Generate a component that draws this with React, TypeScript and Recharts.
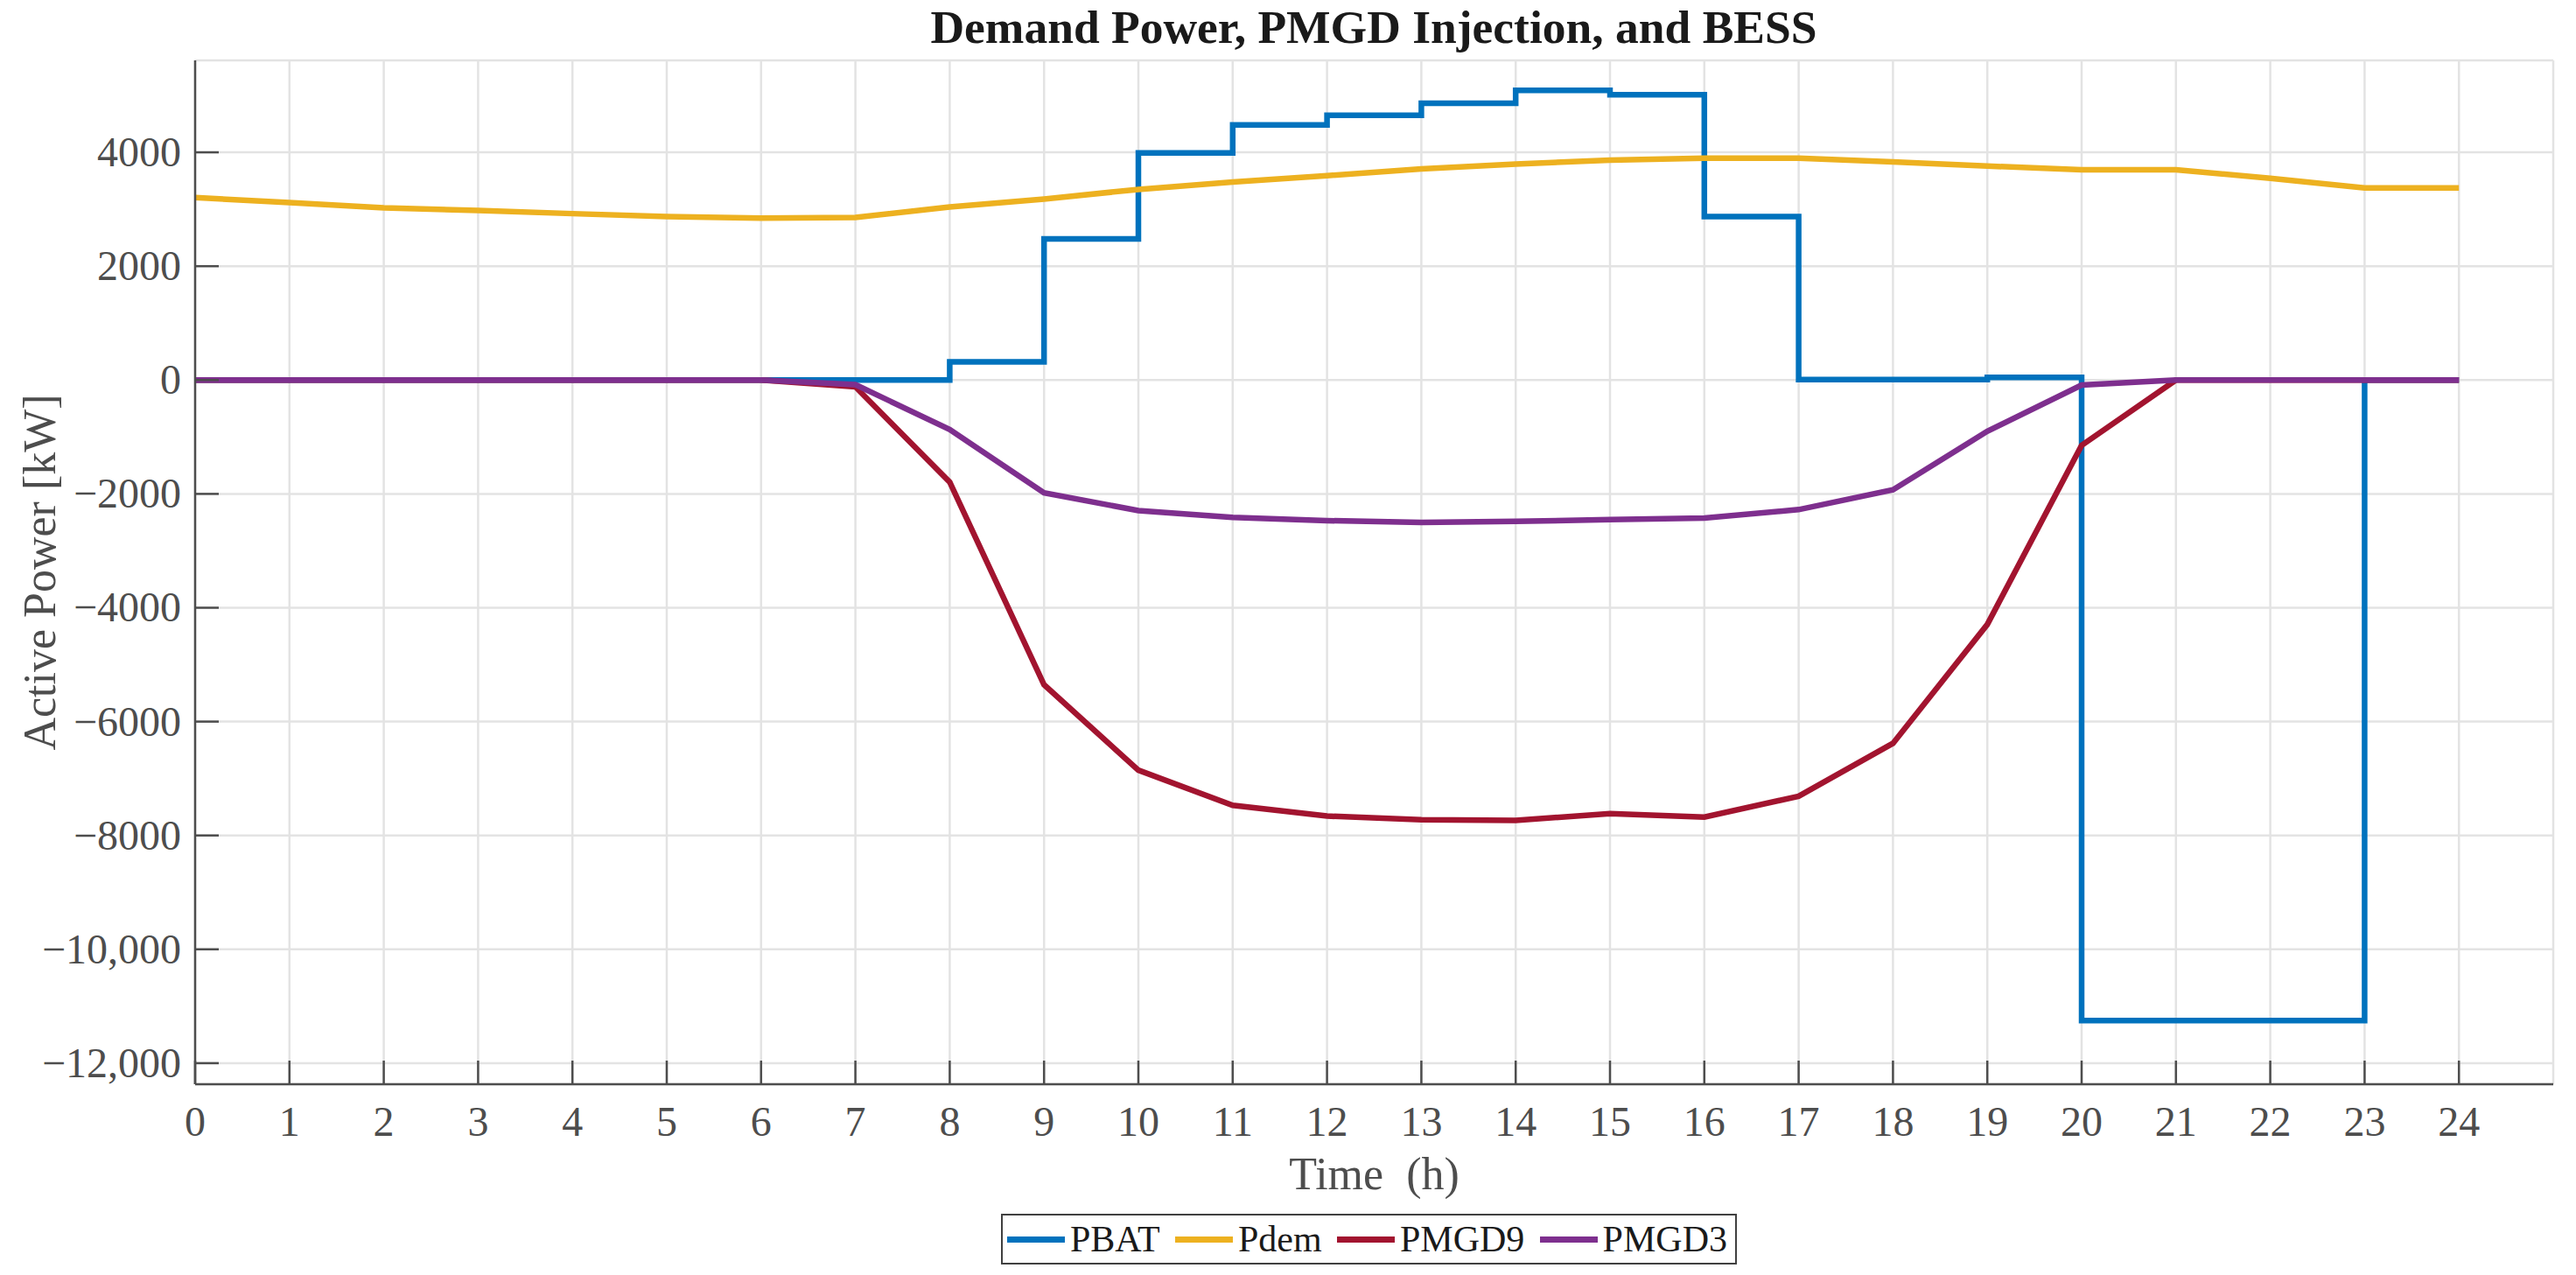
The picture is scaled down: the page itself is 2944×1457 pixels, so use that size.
import React from 'react';
import { LineChart, Line, XAxis, YAxis, CartesianGrid } from 'recharts';

const hours = [0, 1, 2, 3, 4, 5, 6, 7, 8, 9, 10, 11, 12, 13, 14, 15, 16, 17, 18, 19, 20, 21, 22, 23, 24];
const pbat = [0, 0, 0, 0, 0, 0, 0, 0, 320, 2480, 3990, 4480, 4650, 4860, 5090, 5010, 2870, 10, 10, 45, -11250, -11250, -11250, 0, 0];
const pdem = [3205, 3118, 3026, 2979, 2923, 2872, 2846, 2856, 3041, 3179, 3349, 3477, 3590, 3708, 3795, 3862, 3897, 3897, 3831, 3759, 3692, 3692, 3544, 3374, 3374];
const pmgd9 = [0, 0, 0, 0, 0, 0, 0, -120, -1794, -5353, -6853, -7471, -7659, -7724, -7735, -7618, -7676, -7312, -6382, -4294, -1147, 0, 0, 0, 0];
const pmgd3 = [0, 0, 0, 0, 0, 0, 0, -80, -870, -1982, -2294, -2412, -2470, -2500, -2482, -2453, -2424, -2276, -1929, -900, -88, 0, 0, 0, 0];

const xTicks = hours;
const yTicks = [-12000, -10000, -8000, -6000, -4000, -2000, 0, 2000, 4000];

const series = [
  { key: 'PBAT', color: '#0072BD', step: true },
  { key: 'Pdem', color: '#EDB120', step: false },
  { key: 'PMGD9', color: '#A2142F', step: false },
  { key: 'PMGD3', color: '#7E2F8E', step: false },
];

const data = hours.map((h, i) => ({
  h,
  PBAT: pbat[i],
  Pdem: pdem[i],
  PMGD9: pmgd9[i],
  PMGD3: pmgd3[i],
}));

const FONT = '"Liberation Serif", "Times New Roman", serif';
const AXIS = '#4d4d4d';
const TICK_LEN = 27;

const fmt = (v: number) => {
  const a = Math.abs(v);
  const s = a >= 10000 ? a.toLocaleString('en-US') : String(a);
  return v < 0 ? '\u2212' + s : s;
};

const YTick = (props: any) => {
  const { x, y, payload } = props;
  return (
    <g>
      <line x1={x} x2={x + TICK_LEN} y1={y} y2={y} stroke={AXIS} strokeWidth={2.5} />
      <text x={x - 16} y={y + 16} textAnchor="end" fill={AXIS} fontSize={48} fontFamily={FONT}>
        {fmt(payload.value)}
      </text>
    </g>
  );
};

const XTick = (props: any) => {
  const { x, y, payload } = props;
  return (
    <g>
      <line x1={x} x2={x} y1={y} y2={y - TICK_LEN} stroke={AXIS} strokeWidth={2.5} />
      <text x={x} y={y + 59} textAnchor="middle" fill={AXIS} fontSize={48} fontFamily={FONT}>
        {payload.value}
      </text>
    </g>
  );
};

export default function App() {
  return (
    <div style={{ position: 'absolute', left: 0, top: 0, width: 2944, height: 1457, background: '#fff' }}>
      <LineChart
        width={2944}
        height={1457}
        data={data}
        margin={{ top: 69, right: 26, left: 123, bottom: 158 }}
      >
        <CartesianGrid stroke="#e3e3e3" strokeWidth={2.5} />
        <XAxis
          dataKey="h"
          type="number"
          domain={[0, 25]}
          ticks={xTicks}
          interval={0}
          height={60}
          tickSize={0}
          tickMargin={0}
          tickLine={false}
          axisLine={{ stroke: AXIS, strokeWidth: 2.5 }}
          tick={<XTick />}
          label={{
            content: ({ viewBox }: any) => (
              <text
                x={viewBox.x + viewBox.width / 2}
                y={viewBox.y + 120}
                textAnchor="middle"
                fill={AXIS}
                fontSize={52}
                fontFamily={FONT}
              >
                {'Time \u00a0(h)'}
              </text>
            ),
          }}
        />
        <YAxis
          type="number"
          domain={[-12370, 5615]}
          ticks={yTicks}
          interval={0}
          allowDataOverflow
          width={100}
          tickSize={0}
          tickMargin={0}
          tickLine={false}
          axisLine={{ stroke: AXIS, strokeWidth: 2.5 }}
          tick={<YTick />}
          label={{
            content: ({ viewBox }: any) => {
              const cx = viewBox.x - 60;
              const cy = viewBox.y + viewBox.height / 2;
              return (
                <text
                  x={cx}
                  y={cy}
                  transform={`rotate(-90, ${cx}, ${cy})`}
                  textAnchor="middle"
                  fill={AXIS}
                  fontSize={52}
                  fontFamily={FONT}
                >
                  Active Power [kW]
                </text>
              );
            },
          }}
        />
        {series.map((s) => (
          <Line
            key={s.key}
            dataKey={s.key}
            type={s.step ? 'stepAfter' : 'linear'}
            stroke={s.color}
            strokeWidth={6.5}
            strokeLinejoin="miter"
            dot={false}
            activeDot={false}
            isAnimationActive={false}
          />
        ))}
      </LineChart>
      <svg
        width={2944}
        height={120}
        style={{ position: 'absolute', left: 0, top: 0, pointerEvents: 'none' }}
      >
        <text x={1570} y={49} textAnchor="middle" fill="#1a1a1a" fontSize={53.5} fontWeight="bold" fontFamily={FONT}>
          Demand Power, PMGD Injection, and BESS
        </text>
      </svg>
      <div
        style={{
          position: 'absolute',
          left: 1144,
          top: 1387,
          width: 841,
          height: 58,
          boxSizing: 'border-box',
          border: '2.5px solid #404040',
          background: '#fff',
          display: 'flex',
          alignItems: 'center',
          justifyContent: 'space-between',
          padding: '0 9px 0 5px',
          fontFamily: FONT,
          fontSize: 42,
          color: '#1a1a1a',
        }}
      >
        {series.map((s) => (
          <div key={s.key} style={{ display: 'flex', alignItems: 'center' }}>
            <div style={{ width: 66, height: 7, background: s.color, marginRight: 6 }} />
            <span style={{ lineHeight: 1 }}>{s.key}</span>
          </div>
        ))}
      </div>
    </div>
  );
}
